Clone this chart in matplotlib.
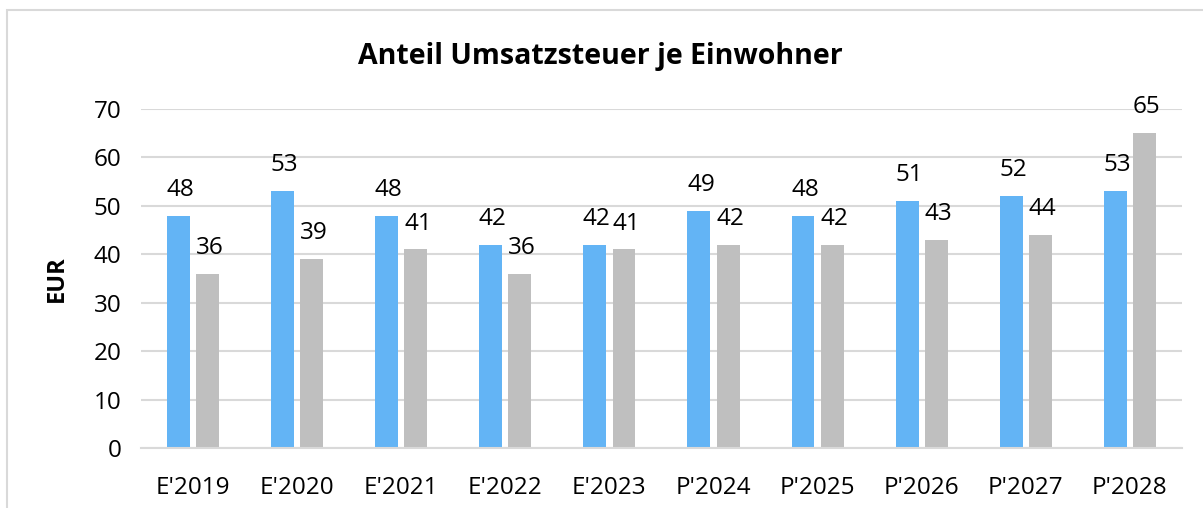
import matplotlib.pyplot as plt
import numpy as np
from matplotlib.patches import Rectangle

plt.rcParams["font.family"] = ["Open Sans", "DejaVu Sans"]

categories = ["E'2019", "E'2020", "E'2021", "E'2022", "E'2023",
              "P'2024", "P'2025", "P'2026", "P'2027", "P'2028"]
series_a = [48, 53, 48, 42, 42, 49, 48, 51, 52, 53]
series_b = [36, 39, 41, 36, 41, 42, 42, 43, 44, 65]

blue = "#63B4F5"
grey = "#BFBFBF"
grid = "#D9D9D9"

fig = plt.figure(figsize=(12.03, 5.08), dpi=100)
ax = fig.add_axes([0.1172, 0.1181, 0.8653, 0.6673])

x = np.arange(len(categories))
w = 0.22
off = 0.14
bars_a = ax.bar(x - off, series_a, w, color=blue, zorder=2)
bars_b = ax.bar(x + off, series_b, w, color=grey, zorder=2)

for bars in (bars_a, bars_b):
    for b in bars:
        ax.annotate(f"{b.get_height():.0f}",
                    (b.get_x() + b.get_width() / 2 + 0.02, b.get_height()),
                    xytext=(0, 10), textcoords="offset points",
                    ha="center", va="bottom", fontsize=17.5)

ax.set_xlim(-0.5, len(categories) - 0.5)
ax.set_ylim(0, 70)
ax.set_yticks(range(0, 71, 10))
ax.set_xticks(x)
ax.set_xticklabels(categories)
ax.tick_params(axis="both", length=0, labelsize=17.5)
ax.tick_params(axis="y", pad=14)
ax.tick_params(axis="x", pad=20)
ax.yaxis.grid(True, color=grid, linewidth=1.5, zorder=0)
ax.set_axisbelow(True)
for s in ("top", "right", "left"):
    ax.spines[s].set_visible(False)
ax.spines["bottom"].set_color(grid)
ax.spines["bottom"].set_linewidth(1.5)

ax.set_ylabel("EUR", fontsize=17, fontweight="bold", labelpad=18)
fig.text(0.4988, 0.888, "Anteil Umsatzsteuer je Einwohner",
         ha="center", va="center", fontsize=20.5, fontweight="bold")

fig.patches.append(Rectangle((7 / 1203, -0.1), 1.2, 0.1 + 1 - 10 / 508,
                             transform=fig.transFigure, fill=False,
                             edgecolor=grid, linewidth=1.5))

fig.savefig("out.png", dpi=100)
